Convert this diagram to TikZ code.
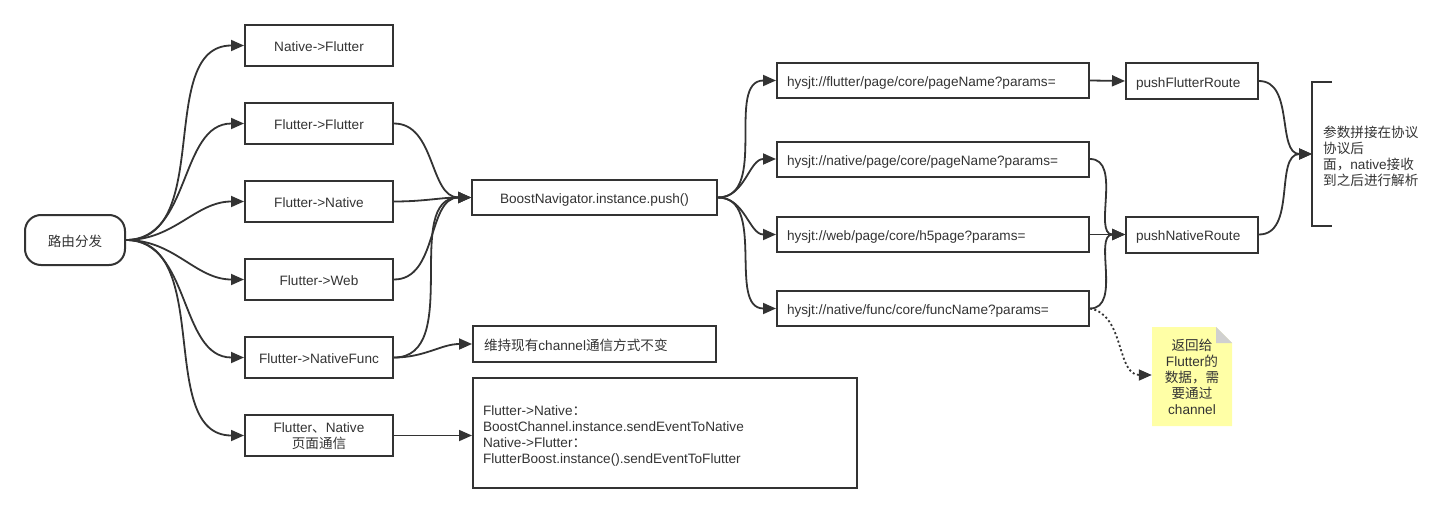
\documentclass[tikz,border=0pt]{standalone}
\usepackage{fontspec}
\setmainfont{Liberation Sans}
\newfontfamily\cjk{Noto Sans CJK SC}
\usetikzlibrary{arrows.meta}
\definecolor{ln}{HTML}{333333}
\definecolor{tx}{HTML}{333333}
\definecolor{noteyel}{HTML}{FFFFA6}
\definecolor{notefold}{HTML}{D0D0D0}
\begin{document}
\begin{tikzpicture}[x=1pt,y=-1pt,
  font=\fontsize{13.6}{16}\selectfont, text=tx,
  box/.style={draw=ln, line width=2pt, inner sep=0pt, align=center, text height=12pt, text depth=0pt},
  lbox/.style={box, minimum width=148pt, minimum height=41pt},
  tbox/.style={draw=ln, line width=2pt, inner ysep=0pt, align=left, text height=12pt, text depth=0pt},
  conn/.style={draw=ln, line width=1.8pt, -{Triangle[length=13pt,width=11pt]}},
  dconn/.style={conn, dash pattern=on 2pt off 2.5pt},
]
\useasboundingbox (0,0) rectangle (1453,514);

% root
\node[box, rounded corners=16pt, minimum width=100pt, minimum height=50pt] (root) at (75,240) {\cjk 路由分发};

% left column
\node[lbox] (nf) at (319,45.5) {Native->Flutter};
\node[lbox] (ff) at (319,123.5) {Flutter->Flutter};
\node[lbox] (fn) at (319,201.5) {Flutter->Native};
\node[lbox] (fw) at (319,279.5) {Flutter->Web};
\node[lbox] (fnf) at (319,357.5) {Flutter->NativeFunc};
\node[lbox, text width=140pt, text depth=19pt] (fnc) at (319,435.5) {Flutter{\cjk 、}Native\\{\cjk 页面通信}};

% middle
\node[box, minimum width=245pt, minimum height=35pt] (boost) at (594.5,197.5) {BoostNavigator.instance.push()};
\node[tbox, minimum width=243pt, minimum height=36pt, inner xsep=11pt, text width=221pt] (keep) at (594.5,344) {{\cjk 维持现有}channel{\cjk 通信方式不变}};
\node[tbox, minimum width=384pt, minimum height=110pt, inner xsep=10pt, text width=364pt, text depth=48pt] (comm) at (665,433) {Flutter->Native{\cjk ：}\\
BoostChannel.instance.sendEventToNative\\
Native->Flutter{\cjk ：}\\
FlutterBoost.instance().sendEventToFlutter};

% URL boxes
\node[tbox, minimum width=312pt, minimum height=35pt, inner xsep=10pt, text width=292pt] (u1) at (933,80.5) {hysjt://flutter/page/core/pageName?params=};
\node[tbox, minimum width=312pt, minimum height=35pt, inner xsep=10pt, text width=292pt] (u2) at (933,159) {hysjt://native/page/core/pageName?params=};
\node[tbox, minimum width=312pt, minimum height=35pt, inner xsep=10pt, text width=292pt] (u3) at (933,234.5) {hysjt://web/page/core/h5page?params=};
\node[tbox, minimum width=312pt, minimum height=35pt, inner xsep=10pt, text width=292pt] (u4) at (933,308.5) {hysjt://native/func/core/funcName?params=};

% push boxes
\node[tbox, minimum width=132pt, minimum height=36pt, inner xsep=10pt, text width=112pt] (pf) at (1192,81) {pushFlutterRoute};
\node[tbox, minimum width=132pt, minimum height=36pt, inner xsep=10pt, text width=112pt] (pn) at (1192,234.5) {pushNativeRoute};

% bracket annotation
\coordinate (brk) at (1312,154);
\draw[ln, line width=2pt] (1332,82) -- (1312,82) -- (1312,226) -- (1332,226);
\node[anchor=base west, align=left, inner sep=0pt, text width=118pt] (ann) at (1323,137) {{\cjk 参数拼接在协议}\\{\cjk 协议后}\\{\cjk 面，}native{\cjk 接收}\\{\cjk 到之后进行解析}};

% note
\fill[noteyel] (1152,327) -- (1216,327) -- (1232,343) -- (1232,426) -- (1152,426) -- cycle;
\fill[notefold] (1216,327) -- (1216,343) -- (1232,343) -- cycle;
\node[minimum width=80pt, minimum height=99pt, inner sep=0pt, align=center, text width=80pt, text height=12pt, text depth=65pt] (note) at (1192,376.5) {{\cjk 返回给}\\Flutter{\cjk 的}\\{\cjk 数据，需}\\{\cjk 要通过}\\channel};

% connectors from root
\foreach \t in {nf,ff,fn,fw,fnf,fnc}
  \draw[conn] (root.east) to[out=0,in=180] (\t.west);

% into boost
\foreach \s in {ff,fn,fw,fnf}
  \draw[conn] (\s.east) to[out=0,in=180] (boost.west);

\draw[conn] (fnf.east) to[out=0,in=180] (keep.west);
\draw[conn] (fnc.east) -- (fnc.east -| comm.west);

% boost to URLs
\foreach \t in {u1,u2,u3,u4}
  \draw[conn] (boost.east) to[out=0,in=180] (\t.west);

% URLs to push
\draw[conn] (u1.east) -- (pf.west);
\draw[conn] (u2.east) to[out=0,in=180] (pn.west);
\draw[conn] (u3.east) -- (pn.west);
\draw[conn] (u4.east) to[out=0,in=180] (pn.west);

% push to bracket
\draw[conn] (pf.east) to[out=0,in=180] (brk);
\draw[conn] (pn.east) to[out=0,in=180] (brk);

% dotted to note
\draw[dconn] (u4.east) to[out=-10,in=180] (note.west |- 0,375);
\end{tikzpicture}
\end{document}
